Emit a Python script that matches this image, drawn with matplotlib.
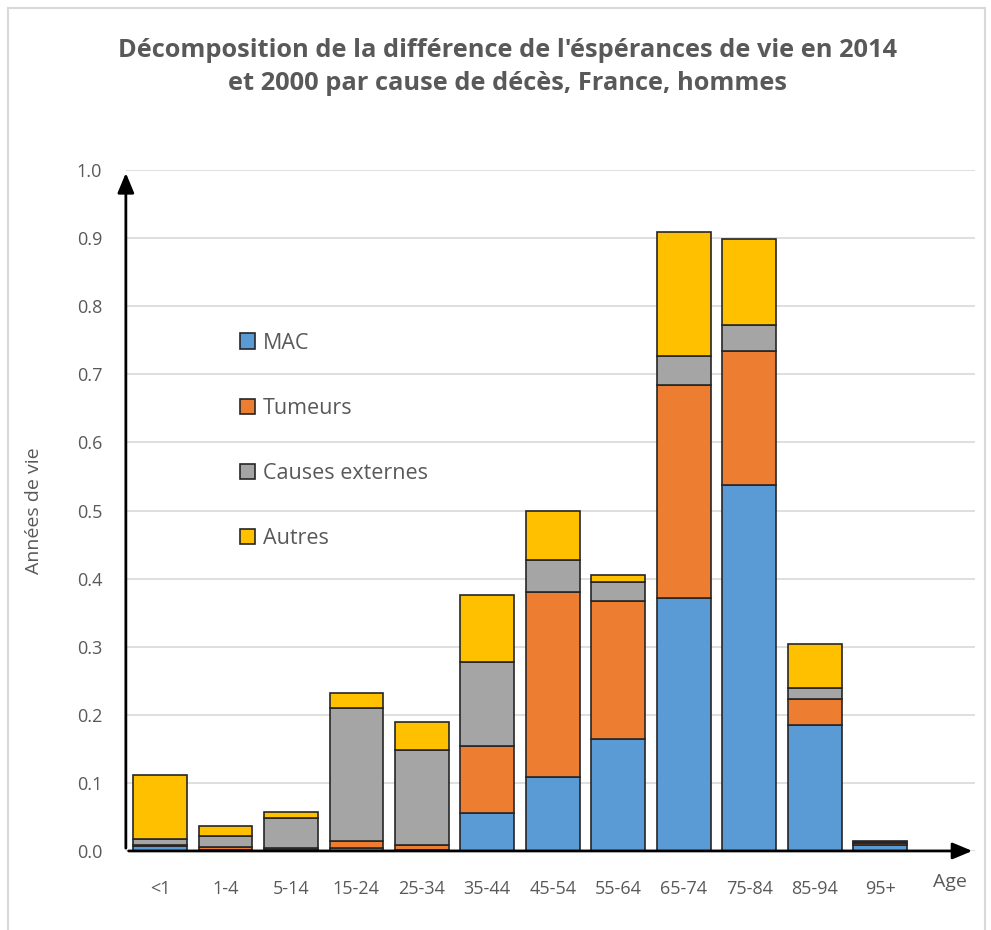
import numpy as np
import matplotlib.pyplot as plt
from matplotlib.patches import Patch
from matplotlib.lines import Line2D

ages = ['<1', '1-4', '5-14', '15-24', '25-34', '35-44', '45-54',
        '55-64', '65-74', '75-84', '85-94', '95+']
mac = [0.007, 0.001, 0.002, 0.005, 0.001, 0.056, 0.108, 0.164, 0.371, 0.537, 0.185, 0.009]
tumeurs = [0.002, 0.005, 0.002, 0.009, 0.008, 0.098, 0.272, 0.203, 0.313, 0.197, 0.038, 0.002]
causes_ext = [0.008, 0.016, 0.044, 0.196, 0.139, 0.123, 0.047, 0.028, 0.043, 0.038, 0.016, 0.002]
autres = [0.094, 0.014, 0.009, 0.022, 0.042, 0.099, 0.073, 0.011, 0.182, 0.127, 0.065, 0.002]

series = [('MAC', mac, '#5B9BD5'),
          ('Tumeurs', tumeurs, '#ED7D31'),
          ('Causes externes', causes_ext, '#A5A5A5'),
          ('Autres', autres, '#FFC000')]

plt.rcParams['font.family'] = ['Open Sans', 'DejaVu Sans']
txt = '#595959'

fig = plt.figure(figsize=(9.91, 9.30), dpi=100)
ax = fig.add_axes([0.127, 0.085, 0.857, 0.732])

x = np.arange(len(ages))
bottom = np.zeros(len(ages))
handles = []
for name, vals, col in series:
    ax.bar(x, vals, width=0.82, bottom=bottom, color=col, edgecolor='#262626',
           linewidth=1.2, zorder=3)
    bottom += np.array(vals)
    handles.append(Patch(facecolor=col, edgecolor='#262626', linewidth=1.2, label=name))

ax.set_xlim(-0.52, 12.45)
ax.set_ylim(0, 1.0)
ax.set_yticks(np.arange(0, 1.01, 0.1))
ax.set_yticklabels([f'{v:.1f}' for v in np.arange(0, 1.01, 0.1)])
ax.set_xticks(x)
ax.set_xticklabels(ages)
ax.tick_params(axis='both', length=0, colors=txt, labelsize=13)
ax.tick_params(axis='x', pad=21)
ax.tick_params(axis='y', pad=17)
ax.grid(axis='y', color='#D9D9D9', linewidth=1.2, zorder=0)
for s in ax.spines.values():
    s.set_visible(False)

# axis arrows
ax.annotate('', xy=(1.0, 0), xytext=(0, 0), xycoords='axes fraction',
            arrowprops=dict(arrowstyle='-|>,head_length=1.2,head_width=0.5',
                            color='black', lw=2), zorder=5)
ax.annotate('', xy=(0, 1.0), xytext=(0, 0), xycoords='axes fraction',
            arrowprops=dict(arrowstyle='-|>,head_length=1.2,head_width=0.5',
                            color='black', lw=2), zorder=5)

ax.text(12.07, -0.045, 'Age', ha='center', va='center', fontsize=14, color=txt)
ax.set_ylabel('Années de vie', fontsize=14, color=txt, labelpad=24)

ax.legend(handles=handles, loc='upper left', bbox_to_anchor=(0.112, 0.79),
          frameon=False, fontsize=15.5, labelspacing=2.05, handlelength=0.7,
          handleheight=0.7, handletextpad=0.35, labelcolor=txt)

fig.text(0.512, 0.928, "Décomposition de la différence de l'éspérances de vie en 2014\n"
         "et 2000 par cause de décès, France, hommes",
         ha='center', va='center', fontsize=18.3, fontweight='bold', color=txt,
         linespacing=1.45)

# chart border
for xs, ys in [([0.008, 0.008], [0.0, 0.991]), ([0.008, 0.994], [0.991, 0.991]),
               ([0.994, 0.994], [0.0, 0.991])]:
    fig.add_artist(Line2D(xs, ys, color='#D9D9D9', lw=1.5, transform=fig.transFigure))

fig.savefig('out.png', dpi=100)
